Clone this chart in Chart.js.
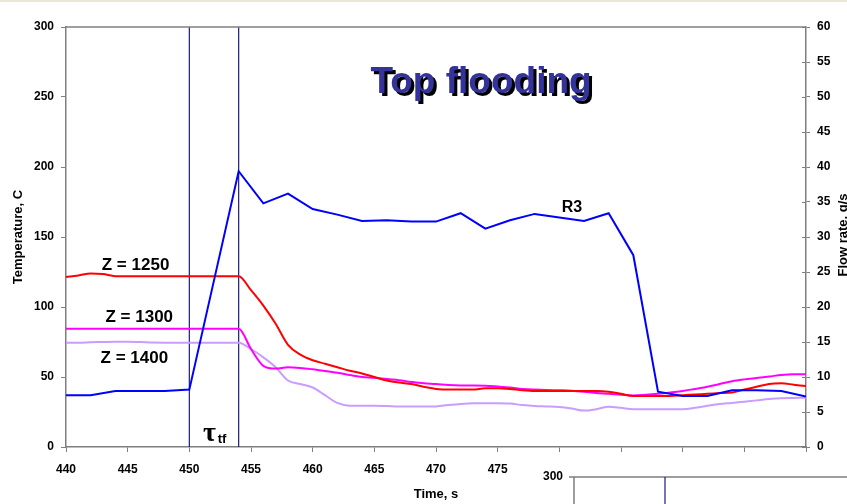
<!DOCTYPE html>
<html lang="en">
<head>
<meta charset="UTF-8">
<title>Top flooding</title>
<script src="https://cdn.jsdelivr.net/npm/chart.js"></script>
<style>
    html, body { margin: 0; padding: 0; background: #fff; }
    .chart-box { position: relative; width: 847px; height: 504px; }
</style>
</head>
<body>
<div class="chart-box"><canvas id="floodChart"></canvas></div>
<script>
// time axis, 1 s steps (thermocouple traces)
const seconds = [440, 441, 442, 443, 444, 445, 446, 447, 448, 449,
                 450, 451, 452, 453, 454, 455, 456, 457, 458, 459,
                 460, 461, 462, 463, 464, 465, 466, 467, 468, 469,
                 470, 471, 472, 473, 474, 475, 476, 477, 478, 479,
                 480, 481, 482, 483, 484, 485, 486, 487, 488, 489,
                 490, 491, 492, 493, 494, 495, 496, 497, 498, 499, 500];

const z1250 = [121.5, 122.5, 124, 123.5, 122, 122, 122, 122, 122, 122,
               122, 122, 122, 122, 122, 112, 101, 88, 73, 66,
               62, 59.5, 57, 54.5, 52.5, 50, 47.5, 46, 45, 43,
               41.5, 41, 41, 41, 42, 42, 41.5, 40.5, 40, 40,
               40, 40, 40, 40, 39.5, 38, 36.5, 36.5, 36.5, 36.5,
               37, 37.5, 38, 38.5, 39, 41, 43, 45, 45.5, 44.5, 43.5];

const z1300 = [84.5, 84.5, 84.5, 84.5, 84.5, 84.5, 84.5, 84.5, 84.5, 84.5,
               84.5, 84.5, 84.5, 84.5, 84.5, 70, 58, 56, 57, 56.5,
               55.5, 54.3, 53, 51.5, 50, 49.5, 48.5, 47.7, 46.5, 45.5,
               45, 44.3, 44, 44, 43.8, 43.2, 42.5, 41.5, 41, 40.7,
               40.5, 40.2, 39.5, 38.6, 38, 37.3, 36.8, 37.3, 38, 39,
               40, 41.5, 43, 45, 47, 48.3, 49.3, 50.3, 51.5, 52, 52];

const z1400 = [74.5, 74.5, 74.8, 75, 75.2, 75.2, 75, 74.6, 74.5, 74.5,
               74.5, 74.5, 74.5, 74.5, 74.5, 70, 64, 57, 47.5, 45,
               42.5, 37, 31.5, 29.5, 29.5, 29.5, 29.3, 29, 29, 29,
               29, 30, 30.8, 31.2, 31.2, 31.2, 31, 30, 29.3, 29,
               28.6, 27.5, 26, 27, 28.8, 28, 27, 27, 27, 27,
               27, 28, 29.5, 30.7, 31.5, 32.4, 33.3, 34.2, 34.8, 35, 35.2];

// R3 trace, 2 s steps
const r3Times = [440, 442, 444, 446, 448, 450, 452, 454, 456, 458,
                 460, 462, 464, 466, 468, 470, 472, 474, 476, 478,
                 480, 482, 484, 486, 488, 490, 492, 494, 496, 498, 500];
const r3 = [37, 37, 40, 40, 40, 41, 119, 197, 174, 181,
            170, 166, 161.5, 162, 161, 161, 167, 156, 162, 166.5,
            164, 161.5, 167, 137, 39.5, 36.5, 36.5, 40.5, 40.5, 40, 36];

// start / end of the top flooding interval
const markerTimes = [450, 454];

// text labels placed in data coordinates (left edge, baseline)
const notes = [
    { text: 'Z = 1250', x: 442.9, y: 126.4, font: 'bold 17px Arial, "Liberation Sans"' },
    { text: 'Z = 1300', x: 443.2, y: 89.3, font: 'bold 17px Arial, "Liberation Sans"' },
    { text: 'Z = 1400', x: 442.8, y: 60, font: 'bold 17px Arial, "Liberation Sans"' },
    { text: 'R3', x: 480.2, y: 167.9, font: 'bold 16px Arial, "Liberation Sans"' },
    { text: 'τ', x: 451.1, y: 4.3, font: 'bold 28px "Liberation Serif", serif' },
    { text: 'tf', x: 452.3, y: 2.9, font: 'bold 13px Arial, "Liberation Sans"' }
];

const FONT = 'Arial, "Liberation Sans", sans-serif';
const AXIS = '#7f7f7f';

function trace(label, xs, ys, color, width, smooth) {
    return {
        label: label,
        data: xs.map((x, i) => ({ x: x, y: ys[i] })),
        borderColor: color,
        backgroundColor: color,
        borderWidth: width,
        pointRadius: 0,
        cubicInterpolationMode: smooth ? 'monotone' : 'default',
        tension: 0,
        fill: false,
        yAxisID: 'y'
    };
}

const datasets = [
    trace('R3', r3Times, r3, '#0000ff', 2, false),
    trace('Z = 1250', seconds, z1250, '#ff0000', 2, true),
    trace('Z = 1300', seconds, z1300, '#ff00ff', 2, true),
    trace('Z = 1400', seconds, z1400, '#c99cff', 2, true)
];
markerTimes.forEach(t => {
    datasets.push({
        label: 'marker ' + t,
        data: [{ x: t, y: 0 }, { x: t, y: 300 }],
        borderColor: '#1a1a80',
        borderWidth: 1.2,
        pointRadius: 0,
        yAxisID: 'y'
    });
});

const decorations = {
    id: 'decorations',
    afterDraw(chart) {
        const ctx = chart.ctx;
        const a = chart.chartArea;
        const xs = chart.scales.x, ys = chart.scales.y, y2 = chart.scales.y2;
        ctx.save();

        // beige strip at the very top
        ctx.fillStyle = '#e9e8d6';
        ctx.fillRect(0, 0, chart.width, 2);

        // plot area top border
        ctx.strokeStyle = AXIS;
        ctx.lineWidth = 1.5;
        ctx.beginPath();
        ctx.moveTo(a.left, a.top);
        ctx.lineTo(a.right, a.top);
        ctx.stroke();

        // inner half of the right axis ticks
        ctx.lineWidth = 1;
        y2.ticks.forEach(t => {
            const py = Math.round(y2.getPixelForValue(t.value)) + 0.5;
            ctx.beginPath();
            ctx.moveTo(a.right - 4, py);
            ctx.lineTo(a.right, py);
            ctx.stroke();
        });

        // title with shadow
        ctx.font = 'bold 37px ' + FONT;
        ctx.textAlign = 'center';
        ctx.textBaseline = 'alphabetic';
        const tx = a.left + 415, ty = a.top + 66;
        ctx.fillStyle = '#000';
        ctx.fillText('Top flooding', tx + 3, ty + 3);
        ctx.fillStyle = '#333399';
        ctx.fillText('Top flooding', tx, ty);

        // curve labels
        ctx.fillStyle = '#000';
        ctx.textAlign = 'left';
        notes.forEach(n => {
            ctx.font = n.font;
            ctx.fillText(n.text, xs.getPixelForValue(n.x), ys.getPixelForValue(n.y));
        });

        // axis titles
        ctx.font = 'bold 13px ' + FONT;
        ctx.textAlign = 'center';
        ctx.textBaseline = 'middle';
        ctx.fillText('Time, s', (a.left + a.right) / 2, 494);
        ctx.save();
        ctx.translate(18, (a.top + a.bottom) / 2);
        ctx.rotate(-Math.PI / 2);
        ctx.fillText('Temperature, C', 0, 0);
        ctx.restore();
        ctx.save();
        ctx.translate(843, 235);
        ctx.rotate(-Math.PI / 2);
        ctx.fillText('Flow rate, g/s', 0, 0);
        ctx.restore();

        // corner of the next chart lying over this one
        ctx.fillStyle = '#fff';
        ctx.fillRect(530, 455, chart.width - 530, chart.height - 455);
        ctx.fillStyle = '#000';
        ctx.font = 'bold 12px ' + FONT;
        ctx.textAlign = 'right';
        ctx.fillText('300', 563, 477);
        ctx.strokeStyle = AXIS;
        ctx.lineWidth = 1.5;
        ctx.beginPath();
        ctx.moveTo(569, 477);
        ctx.lineTo(chart.width, 477);
        ctx.moveTo(574, 477);
        ctx.lineTo(574, chart.height);
        ctx.stroke();
        ctx.strokeStyle = '#1a1a80';
        ctx.lineWidth = 1.2;
        ctx.beginPath();
        ctx.moveTo(665, 477);
        ctx.lineTo(665, chart.height);
        ctx.stroke();

        ctx.restore();
    }
};

const tickFont = { family: FONT, size: 12, weight: 'bold' };

new Chart(document.getElementById('floodChart'), {
    type: 'line',
    data: { datasets: datasets },
    options: {
        responsive: true,
        maintainAspectRatio: false,
        animation: false,
        layout: { padding: { top: 27, left: 0, right: 0, bottom: 0 } },
        plugins: {
            legend: { display: false },
            tooltip: { enabled: false }
        },
        scales: {
            x: {
                type: 'linear',
                min: 440,
                max: 500,
                ticks: { stepSize: 5, color: '#000', font: tickFont, padding: 10, maxRotation: 0 },
                grid: { drawOnChartArea: false, tickLength: 5, color: AXIS },
                border: { color: AXIS, width: 1.5 },
                afterFit(s) { s.height = 57; }
            },
            y: {
                position: 'left',
                min: 0,
                max: 300,
                ticks: { stepSize: 50, color: '#000', font: tickFont, padding: 7 },
                grid: { drawOnChartArea: false, tickLength: 5, color: AXIS },
                border: { color: AXIS, width: 1.5 },
                afterFit(s) { s.width = 66; }
            },
            y2: {
                position: 'right',
                min: 0,
                max: 60,
                ticks: { stepSize: 5, color: '#000', font: tickFont, padding: 7 },
                grid: { drawOnChartArea: false, tickLength: 4, color: AXIS },
                border: { color: AXIS, width: 1.5 },
                afterFit(s) { s.width = 41; }
            }
        }
    },
    plugins: [decorations]
});
</script>
</body>
</html>
